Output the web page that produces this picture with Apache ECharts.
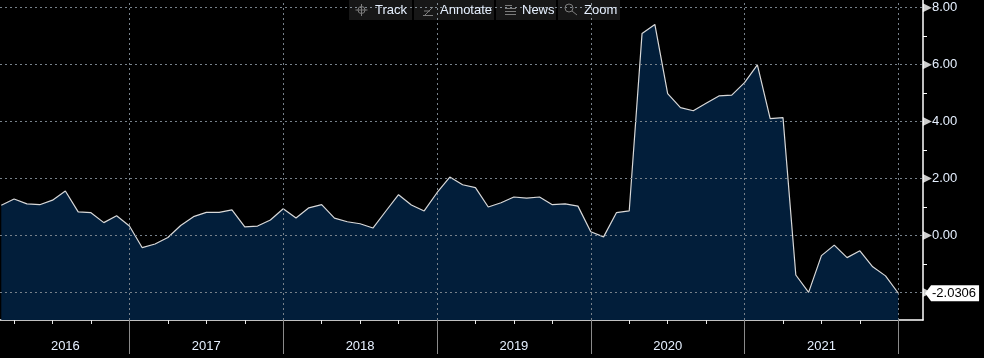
<!DOCTYPE html>
<html><head><meta charset="utf-8">
<style>html,body{margin:0;padding:0;background:#000}#c{width:984px;height:358px}</style>
<script src="https://cdn.jsdelivr.net/npm/echarts@6/dist/echarts.min.js"></script>
</head><body><div id="c"></div>
<script>
const values = [1.06,1.28,1.11,1.08,1.24,1.56,0.83,0.80,0.45,0.69,0.33,-0.43,-0.30,-0.07,0.35,0.66,0.81,0.81,0.90,0.30,0.33,0.54,0.94,0.61,0.97,1.08,0.61,0.48,0.41,0.26,0.85,1.43,1.07,0.86,1.50,2.05,1.78,1.68,1.00,1.15,1.35,1.31,1.35,1.08,1.11,1.03,0.13,-0.05,0.80,0.86,7.09,7.41,4.98,4.49,4.38,4.64,4.90,4.93,5.37,5.99,4.10,4.14,-1.39,-2.00,-0.71,-0.34,-0.78,-0.54,-1.10,-1.42,-2.0306];
const yearLabels = ['2016','2017','2018','2019','2020','2021'];
const yearLabelIdx = [5,16,28,40,52,64];
const yearEdgeIdx = [10,22,34,46,58,70];
const quarterIdx = [1,4,7,13,16,19,25,28,31,37,40,43,49,52,55,61,64,67];
const yTicks = [8,6,4,2,0,-2];
const yMinor = [7,5,3,1,-1];
const toolbar = [
  {name:'Track',x:349,w:63,tx:375},
  {name:'Annotate',x:414,w:80,tx:440},
  {name:'News',x:496,w:60,tx:522},
  {name:'Zoom',x:558,w:62,tx:584}
];
const FONT = '"Liberation Sans", Arial, sans-serif';
const TXT = '#e6f0ff';
const PX = 12.815, LEFT_IDX = -0.1, RIGHT_X = 923;
const maxIdx = LEFT_IDX + RIGHT_X / PX;
const iconStyle = {stroke:'#7c7c7c',lineWidth:1,fill:'none'};
const ln = (x1,y1,x2,y2)=>({type:'line',z:51,shape:{x1,y1,x2,y2},style:iconStyle});
const ci = (cx,cy,r)=>({type:'circle',z:51,shape:{cx,cy,r},style:iconStyle});
const icons = [
  ci(361.5,10,3.5),ln(361.5,4,361.5,16),ln(355.5,10,367.5,10),
  ln(425,15,433,7),ln(423,15.5,433,15.5),ln(424,11,430,11),
  ln(505,5.5,512,5.5),ln(505,8.5,516,8.5),ln(505,11.5,516,11.5),ln(505,14.5,516,14.5),
  ci(569,8,4),ln(572,11,577,15)
];
const chart = echarts.init(document.getElementById('c'));
const dash = {color:'#77818a',type:[2,3],width:1};
chart.setOption({
  animation:false,
  backgroundColor:'#000',
  grid:{left:0,top:0,width:RIGHT_X,height:320},
  xAxis:[{
    type:'value',min:LEFT_IDX,max:maxIdx,
    axisLine:{show:true,onZero:false,lineStyle:{color:'#fff',width:1.5}},
    axisTick:{show:true,customValues:quarterIdx,length:4,lineStyle:{color:'#e8e8e8'}},
    axisLabel:{show:true,customValues:yearLabelIdx,
      formatter:(v)=>yearLabels[yearLabelIdx.indexOf(v)]||'',
      margin:20,color:TXT,fontFamily:FONT,fontSize:13},
    splitLine:{show:false}
  },{
    type:'value',min:LEFT_IDX,max:maxIdx,position:'bottom',
    axisLine:{show:false,onZero:false},
    axisTick:{show:true,customValues:yearEdgeIdx,length:34,lineStyle:{color:'#8a8a8a'}},
    axisLabel:{show:false},splitLine:{show:false}
  }],
  yAxis:{
    type:'value',min:-2.97,max:8.27,position:'right',
    axisLine:{show:true,onZero:false,lineStyle:{color:'#fff',width:1.5}},
    axisTick:{show:true,customValues:yMinor,length:4,lineStyle:{color:'#fff'}},
    axisLabel:{show:true,customValues:yTicks,formatter:(v)=>v.toFixed(2),margin:9,padding:[2,0,0,0],color:TXT,fontFamily:FONT,fontSize:13},
    splitLine:{show:false}
  },
  series:[{
    type:'line',data:values.map((v,i)=>[i,v]),symbol:'none',smooth:false,z:2,
    lineStyle:{color:'#d8d8d8',width:1.2},
    areaStyle:{color:'#021e3a',opacity:1,origin:'start'},
    markLine:{silent:true,symbol:'none',label:{show:false},lineStyle:dash,z:3,animation:false,
      data:yTicks.map(v=>({yAxis:v})).concat(yearEdgeIdx.map(v=>({xAxis:v})))},
    markPoint:{
      silent:true,symbol:'path://M0 8L6 0H54V16H6Z',symbolSize:[54,16],symbolKeepAspect:false,
      symbolOffset:[53.7,0],z:10,
      itemStyle:{color:'#fff'},
      label:{show:true,position:'inside',offset:[2,0],formatter:'-2.0306',color:'#000',fontFamily:FONT,fontSize:13},
      data:[{coord:[values.length-1,values[values.length-1]]}]
    }
  },{
    type:'scatter',data:yTicks.map(v=>[maxIdx+0.34,v]),symbol:'triangle',symbolSize:[9,9],symbolRotate:-90,
    clip:false,silent:true,z:5,itemStyle:{color:'#fff'}
  }],
  graphic:toolbar.flatMap(t=>[
    {type:'rect',z:50,shape:{x:t.x,y:0,width:t.w,height:20},style:{fill:'rgba(255,255,255,0.09)'}},
    {type:'text',z:51,x:t.tx,y:3.5,style:{text:t.name,fill:TXT,font:'13px '+FONT}}
  ]).concat(icons)
});
</script></body></html>
